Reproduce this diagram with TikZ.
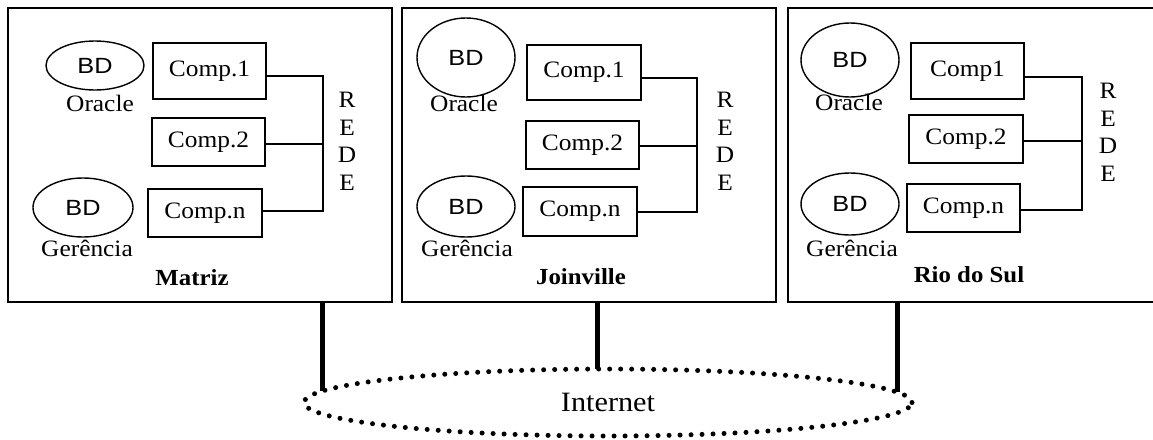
\documentclass[tikz,border=0pt]{standalone}
\usepackage{fontspec}
\setmainfont{Liberation Serif}[FakeStretch=1.08]
\setsansfont{Liberation Sans}[FakeStretch=1.15]
\usetikzlibrary{shapes.geometric,positioning}

\tikzset{
  site/.style={draw, line width=1.6pt, inner sep=0pt},
  comp/.style={draw, line width=1.5pt, inner sep=0pt, font=\fontsize{23.5}{27}\selectfont},
  db/.style={draw, ellipse, line width=1.4pt, inner sep=0pt, font=\sffamily\fontsize{22}{24}\selectfont},
  lbl/.style={inner sep=0pt, font=\fontsize{23.5}{27}\selectfont},
  rede/.style={inner sep=0pt, align=center, font=\fontsize{23.5}{27.5}\selectfont},
  bus/.style={line width=1.4pt},
  link/.style={line width=5pt},
  net/.style={draw, ellipse, line width=5pt, dash pattern=on 0pt off 11pt, line cap=round,
    inner sep=0pt, font=\fontsize{28}{32}\selectfont},
}

\begin{document}
\begin{tikzpicture}[x=1pt, y=-1pt]
    \useasboundingbox (0,0) rectangle (1153,439);

    % Matriz
    \node[site, minimum width=384pt, minimum height=294pt] (mat) at (200,155) {};
    \node[db, minimum width=98pt, minimum height=49pt] (mOra) at (95,65.5) {BD};
    \node[lbl] (mOraL) at (100,103) {Oracle};
    \node[db, minimum width=100pt, minimum height=59pt] (mGer) at (83,207.5) {BD};
    \node[lbl] (mGerL) at (87,248) {Gerência};
    \node[comp, minimum width=113pt, minimum height=56pt] (mC1) at (209.5,71) {Comp.1};
    \node[comp, minimum width=113pt, minimum height=48pt] (mC2) at (208.5,142) {Comp.2};
    \node[comp, minimum width=114pt, minimum height=48pt] (mCn) at (205,213) {Comp.n};
    \node[rede] (mRede) at (347,141.5) {R\\E\\D\\E};
    \node[lbl, font=\bfseries\fontsize{23}{27}\selectfont] (mName) at (192,278) {Matriz};
    \coordinate (mB1) at (323,76);
    \coordinate (mB2) at (323,144);
    \coordinate (mB3) at (323,211);
    \draw[bus] (mC1.east |- mB1) -- (mB1) -- (mB3) -- (mCn.east |- mB3);
    \draw[bus] (mC2.east |- mB2) -- (mB2);

    % Joinville
    \node[site, minimum width=374pt, minimum height=294pt] (jv) at (589,155) {};
    \node[db, minimum width=98pt, minimum height=79pt] (jOra) at (466,57.5) {BD};
    \node[lbl] (jOraL) at (464,103) {Oracle};
    \node[db, minimum width=98pt, minimum height=61pt] (jGer) at (466,206.5) {BD};
    \node[lbl] (jGerL) at (467,248) {Gerência};
    \node[comp, minimum width=114pt, minimum height=55pt] (jC1) at (584,72.5) {Comp.1};
    \node[comp, minimum width=113pt, minimum height=48pt] (jC2) at (582.5,145) {Comp.2};
    \node[comp, minimum width=114pt, minimum height=49pt] (jCn) at (580,211.5) {Comp.n};
    \node[rede] (jRede) at (725,141.5) {R\\E\\D\\E};
    \node[lbl, font=\bfseries\fontsize{23}{27}\selectfont] (jName) at (581,277) {Joinville};
    \coordinate (jB1) at (697,78);
    \coordinate (jB2) at (697,146);
    \coordinate (jB3) at (697,212);
    \draw[bus] (jC1.east |- jB1) -- (jB1) -- (jB3) -- ([xshift=-2pt]jCn.east |- jB3);
    \draw[bus] (jC2.east |- jB2) -- (jB2);

    % Rio do Sul
    \node[site, minimum width=368pt, minimum height=294pt] (rs) at (972,155) {};
    \node[db, minimum width=98pt, minimum height=74pt] (rOra) at (850,60) {BD};
    \node[lbl] (rOraL) at (849,102) {Oracle};
    \node[db, minimum width=98pt, minimum height=62pt] (rGer) at (850,204) {BD};
    \node[lbl] (rGerL) at (852,248) {Gerência};
    \node[comp, minimum width=113pt, minimum height=56pt] (rC1) at (967.5,71) {Comp1};
    \node[comp, minimum width=114pt, minimum height=48pt] (rC2) at (966,139) {Comp.2};
    \node[comp, minimum width=113pt, minimum height=48pt] (rCn) at (963.5,208) {Comp.n};
    \node[rede] (rRede) at (1108,132.5) {R\\E\\D\\E};
    \node[lbl, font=\bfseries\fontsize{23}{27}\selectfont] (rName) at (969,275) {Rio do Sul};
    \coordinate (rB1) at (1082,77);
    \coordinate (rB2) at (1082,141);
    \coordinate (rB3) at (1082,210);
    \draw[bus] (rC1.east |- rB1) -- (rB1) -- (rB3) -- ([xshift=-2pt]rCn.east |- rB3);
    \draw[bus] (rC2.east |- rB2) -- (rB2);

    % Internet
    \node[net, minimum width=608pt, minimum height=67pt] (net) at (608,402.5) {Internet};
    \coordinate (mHit) at (322,391);
    \coordinate (jHit) at (597,369);
    \coordinate (rHit) at (897,392);
    \draw[link] (mat.south -| mHit) -- (mHit);
    \draw[link] (jv.south -| jHit) -- (jHit);
    \draw[link] (rs.south -| rHit) -- (rHit);
\end{tikzpicture}
\end{document}
